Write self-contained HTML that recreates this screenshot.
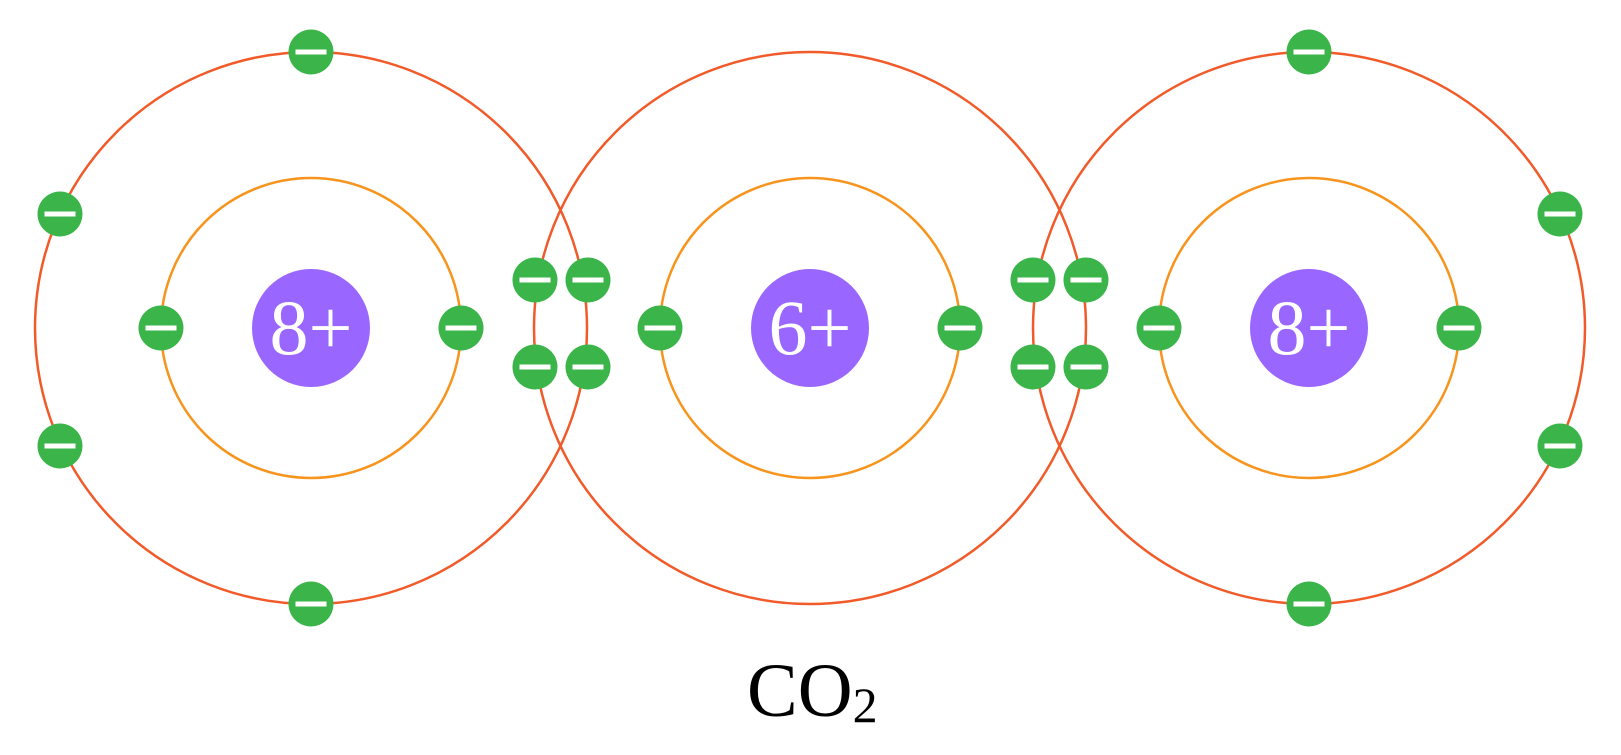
<!DOCTYPE html>
<html><head><meta charset="utf-8"><style>
html,body{margin:0;padding:0;background:#fff;}
</style></head><body>
<svg width="1621" height="750" viewBox="0 0 1621 750" xmlns="http://www.w3.org/2000/svg">
<defs>
<g id="e"><circle r="22.5" fill="#3bb54a"/><rect x="-15.5" y="-2.5" width="31" height="5" fill="#fff"/></g>
</defs>
<g fill="none" stroke-width="2.5">
<circle cx="311" cy="328" r="276" stroke="#f15a29"/>
<circle cx="810" cy="328" r="276" stroke="#f15a29"/>
<circle cx="1309" cy="328" r="276" stroke="#f15a29"/>
<circle cx="311" cy="328" r="150" stroke="#f7941d"/>
<circle cx="810" cy="328" r="150" stroke="#f7941d"/>
<circle cx="1309" cy="328" r="150" stroke="#f7941d"/>
</g>
<g fill="#9966ff">
<circle cx="311" cy="328" r="59"/><circle cx="810" cy="328" r="59"/><circle cx="1309" cy="328" r="59"/>
</g>
<g font-family="Liberation Serif, serif" font-size="78" fill="#fff" text-anchor="middle">
<text x="311" y="354">8+</text><text x="810" y="354">6+</text><text x="1309" y="354">8+</text>
</g>
<use href="#e" x="311" y="52"/><use href="#e" x="311" y="604"/>
<use href="#e" x="60" y="214"/><use href="#e" x="60" y="446"/>
<use href="#e" x="1560" y="214"/><use href="#e" x="1560" y="446"/>
<use href="#e" x="1309" y="52"/><use href="#e" x="1309" y="604"/>
<use href="#e" x="161" y="328"/><use href="#e" x="461" y="328"/>
<use href="#e" x="660" y="328"/><use href="#e" x="960" y="328"/>
<use href="#e" x="1159" y="328"/><use href="#e" x="1459" y="328"/>
<use href="#e" x="535" y="280"/><use href="#e" x="588" y="280"/>
<use href="#e" x="535" y="367"/><use href="#e" x="588" y="367"/>
<use href="#e" x="1033" y="280"/><use href="#e" x="1086" y="280"/>
<use href="#e" x="1033" y="367"/><use href="#e" x="1086" y="367"/>
<text x="747" y="716" font-family="Liberation Serif, serif" font-size="76" fill="#000">CO<tspan font-size="50" dy="6">2</tspan></text>
</svg>
</body></html>
